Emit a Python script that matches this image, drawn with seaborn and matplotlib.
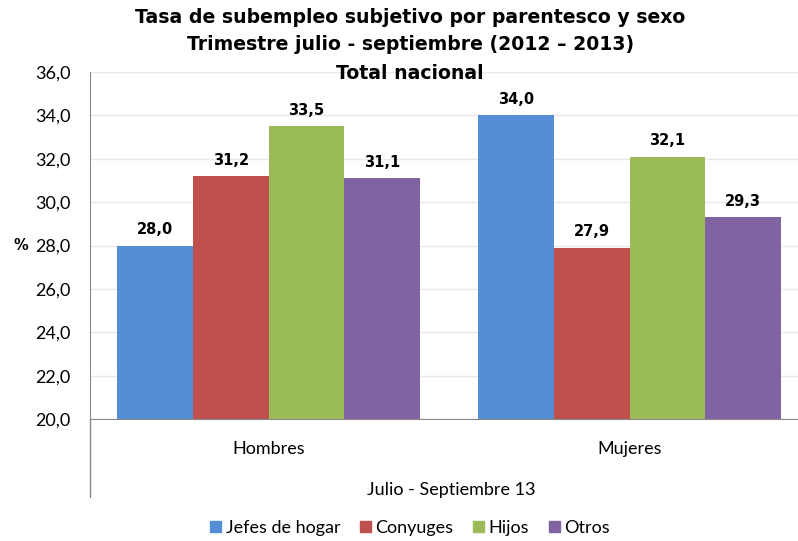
import pandas as pd
import matplotlib.pyplot as plt
import matplotlib.ticker as mticker
import seaborn as sns

# datos
sexos = ["Hombres", "Mujeres"]
parentescos = ["Jefes de hogar", "Conyuges", "Hijos", "Otros"]
hombres = [28.0, 31.2, 33.5, 31.1]
mujeres = [34.0, 27.9, 32.1, 29.3]
colores = ["#558ED5", "#C0504D", "#9BBB59", "#8064A2"]

df = pd.DataFrame({
    "sexo": [sexos[0]] * 4 + [sexos[1]] * 4,
    "parentesco": parentescos * 2,
    "valor": hombres + mujeres,
})

sns.set_style("white", {"text.color": "black", "axes.labelcolor": "black",
                        "xtick.color": "black", "ytick.color": "black"})
plt.rcParams["font.family"] = ["Lato", "DejaVu Sans"]
negrita = ["DejaVu Sans"]

fig = plt.figure(figsize=(7.98, 5.41), dpi=100)
ax = fig.add_axes([0.1128, 0.2255, 0.9048, 0.6414])

sns.barplot(data=df, x="sexo", y="valor", hue="parentesco", hue_order=parentescos,
            palette=colores, width=0.84, saturation=1, edgecolor="none", ax=ax)

fmt_coma = lambda v: f"{v:.1f}".replace(".", ",")
for cont in ax.containers:
    ax.bar_label(cont, fmt=fmt_coma, padding=6, fontsize=10.5, fontweight="bold",
                 family=negrita, color="black")

ax.set_ylim(20, 36)
ax.set_xlim(-0.4945, 1.5055)
ax.set_yticks(range(20, 37, 2))
ax.yaxis.set_major_formatter(mticker.FuncFormatter(lambda v, p: fmt_coma(v)))
ax.tick_params(axis="y", labelsize=13, pad=14, length=0)
ax.tick_params(axis="x", labelsize=13, pad=16, length=0)
ax.grid(axis="y", color="#e8e8e8", linewidth=1)
ax.set_axisbelow(True)
for s in ["top", "right"]:
    ax.spines[s].set_visible(False)
for s in ["left", "bottom"]:
    ax.spines[s].set_color("#888888")
ax.plot([0, 0], [0, -0.225], transform=ax.transAxes, color="#888888",
        linewidth=1, clip_on=False)

ax.set_xlabel("Julio - Septiembre 13", fontsize=13, labelpad=17.5)
ax.set_ylabel("%", rotation=0, fontsize=10.5, fontweight="bold", family=negrita,
              labelpad=10, va="center")

ax.legend_.remove()
handles = [plt.Rectangle((0, 0), 1, 1, color=c) for c in colores]
fig.legend(handles, parentescos, loc="center", bbox_to_anchor=(0.514, 0.024), ncol=4,
           frameon=False, fontsize=13, handlelength=0.6, handleheight=0.6,
           handletextpad=0.25, columnspacing=1.1)

titulo = ["Tasa de subempleo subjetivo por parentesco y sexo",
          "Trimestre julio - septiembre (2012 \u2013 2013)",
          "Total nacional"]
for yy, t in zip([0.967, 0.917, 0.865], titulo):
    fig.text(0.514, yy, t, ha="center", va="center", fontsize=13.6,
             fontweight="bold", family=negrita)

fig.savefig("out.png", dpi=100)
